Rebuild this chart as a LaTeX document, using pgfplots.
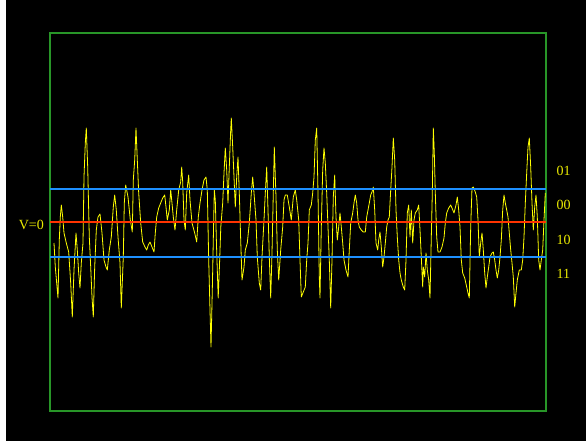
\documentclass[border=0pt]{standalone}
\usepackage{pgfplots}
\pgfplotsset{compat=1.18}
\usepackage{fontspec}
\setmainfont{Liberation Serif}
\definecolor{framegreen}{RGB}{40,150,40}
\definecolor{lvlblue}{RGB}{30,144,255}
\definecolor{lvlred}{RGB}{255,51,0}
\definecolor{sigyellow}{RGB}{255,255,0}
\definecolor{lblyellow}{RGB}{235,235,0}
\tikzset{lbl/.style={text=lblyellow, font=\fontsize{14bp}{16bp}\selectfont, inner sep=0pt}}
\begin{document}
\begin{tikzpicture}
\fill[white] (-50bp,-30bp) rectangle (-44bp,411bp);
\fill[black] (-44bp,-30bp) rectangle (536bp,411bp);
\begin{axis}[
  scale only axis, width=496bp, height=378bp,
  xmin=50, xmax=546, ymin=33, ymax=411, y dir=reverse,
  axis line style={draw=framegreen, line width=2bp},
  ticks=none, clip=false,
]
% signal
\addplot[sigyellow, line width=0.8bp, line join=round] coordinates {
(54,243)(55.3,267)(58,298)(59.3,240)(60.3,217)(61.3,205)(62.7,217)(64,233)(66.3,243)(68.7,252)(70.7,283)(72.3,317)(74,270)(76,233)(77.3,250)(78.7,273)(80,288)(81.3,263)(83,243)(84,177)(85.3,143)(86.3,128)(87.7,167)(89.3,237)(90.7,267)(92,297)(93.3,317)(94.7,267)(96.3,230)(98,217)(100,214)(102,233)(104,260)(106,267)(107.3,270)(109.3,250)(111.3,237)(113.3,207)(114.7,195)(116.3,210)(118,237)(120,263)(121.3,308)(123.3,257)(124.3,203)(125.7,185)(128,197)(130.3,220)
(132.3,232)(133.3,180)(134.7,160)(136,128)(137.3,160)(138.7,193)(140.7,223)(142.7,242)(145,247)(146.7,250)(148.3,245)(150,242)(152,247)(154,252)(155.3,233)(156.7,217)(158.7,208)(160.7,203)(162.7,198)(164.7,195)(166,207)(167.3,220)(169.3,210)(170.7,190)(172,203)(173.3,217)(175,230)(176.7,210)(178.7,190)(180.7,182)(181.7,167)(182.7,182)(184,220)(185.3,230)(186.7,193)(188.7,175)(190,200)(192,223)(194.7,233)(196.7,242)(198.3,217)(200,203)(202,190)(204,180)(206,177)(207.3,190)(208.7,260)(210,310)(211,347)
(212.3,290)(213.5,230)(214.3,190)(215.3,200)(216.5,245)(218.2,298)(219.5,265)(220.8,227)(222.7,203)(224,173)(225.3,148)(226.7,170)(228,203)(229.3,167)(230.7,130)(231.3,118)(232.7,147)(234,177)(235.3,207)(236.7,177)(238,157)(239.3,193)(240.7,240)(242,280)(244,267)(245.3,250)(247.3,243)(249.3,223)(251.3,193)(252.7,177)(254,193)(256,220)(257.3,257)(259.3,283)(260.7,290)(262,257)(264,220)(265.3,193)(266.7,167)(268,210)(269.3,257)(270.7,298)(272,253)(273.3,193)(274.3,147)(276,197)(277.3,250)(278.7,280)(280.7,250)(282.7,227)(284,200)(285.3,195)(287.3,195)(289.3,207)(291.3,220)(293.3,197)(295.3,190)
(296.7,200)(298.7,220)(300,260)(301.3,297)(303.3,292)(305.3,287)(306.7,260)(308,243)(309.3,210)(311.3,205)(312.7,193)(314,177)(315.3,140)(316.7,128)(318,193)(319.3,277)(320,298)(321.3,227)(322.7,170)(324,148)(325.3,163)(326.7,193)(328,227)(329.3,260)(330.7,308)(332,260)(333.3,197)(334.7,175)(336,217)(337.3,240)(338.7,227)(340,213)(341.3,227)(342.7,243)(344,260)(346,270)(348,277)(349.3,250)(350.7,223)(352.7,213)(354,203)(355.3,195)(356.7,203)(358,220)(359.3,227)(361.3,230)(363.3,232)(365.3,232)(366.7,217)(368,210)(369.3,203)(370.7,195)(372,192)(373.3,187)(374.7,210)(376,243)
(377.7,250)(378.7,240)(380,232)(381.3,247)(382.7,267)(384,257)(385.3,243)(386.7,227)(388,220)(389.3,217)(390.7,190)(392,167)(393.3,138)(394.7,160)(396,210)(397.3,237)(398.7,260)(400,273)(401.3,280)(403.3,287)(404.7,290)(406,260)(407.3,213)(408.7,205)(410,237)(411.3,210)(412.7,243)(414,220)(415.3,213)(417.3,210)(418.7,205)(420,230)(421.3,257)(422.7,287)
(423.3,267)(424.7,277)(426,253)(427.3,270)(428.7,280)(430,298)(431.3,237)(432.3,193)(433.3,128)(434.3,153)(435.3,193)(436.7,237)(438,252)(440,252)(442,247)(444,238)(445.3,223)(446.7,213)(448.7,208)(450.7,205)(452,208)(454,213)(456,205)(457.3,197)(458.7,210)(460,227)(461.3,260)(462.7,273)(464.7,278)(466.7,287)(468,293)(469.3,298)(470.7,227)(472,188)(473.3,187)(475.3,192)(476.7,197)(478,220)(479.3,257)(480.7,243)(482,233)(483.3,250)(484.7,273)(486,288)(487.3,277)(488.7,267)(490,257)(492,253)(493.3,252)(494.7,260)(496,270)(497.3,278)(498.7,270)(500,257)(501.3,240)(502.7,210)(504,195)(505.3,203)(506.7,210)(508,217)(509.3,233)(510.7,250)(512,263)(513.3,277)(514.7,307)(516,293)(517.3,280)(519.3,270)(521.3,270)(522.7,260)(524,237)(525.3,203)(526.7,173)(528,147)(529.3,138)(530.7,167)(532,203)(533.3,230)(534.7,207)(536,195)(537.3,217)(538.7,260)(540,270)(541.3,260)(542.7,250)(544,220)(545.3,193)
};
% level lines
\addplot[lvlblue, line width=2bp] coordinates {(50,188.5)(546,188.5)};
\addplot[lvlred, line width=2bp] coordinates {(50,222.3)(546,222.3)};
\addplot[lvlblue, line width=2bp] coordinates {(50,256.5)(546,256.5)};
% labels
\node[lbl, anchor=east] at (axis cs:44,225) {V=0};
\node[lbl, anchor=west] at (axis cs:556.5,171) {01};
\node[lbl, anchor=west] at (axis cs:556.5,205) {00};
\node[lbl, anchor=west] at (axis cs:556.5,240) {10};
\node[lbl, anchor=west] at (axis cs:556.5,274) {11};
\end{axis}
\pgfresetboundingbox
\path[use as bounding box] (-50bp,-30bp) rectangle (536bp,411bp);
\end{tikzpicture}
\end{document}
